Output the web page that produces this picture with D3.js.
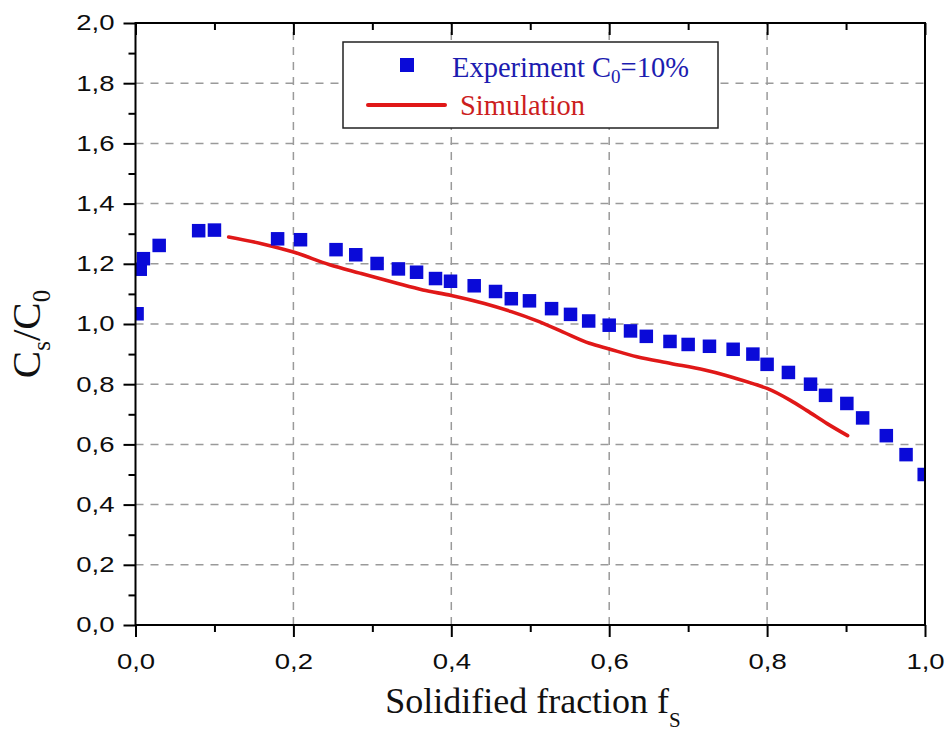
<!DOCTYPE html>
<html>
<head>
<meta charset="utf-8">
<script src="https://cdn.jsdelivr.net/npm/d3@7"></script>
<style>
  html, body { margin: 0; padding: 0; background: #fff; }
  svg { display: block; }
</style>
</head>
<body>
<svg id="chart" width="948" height="735"></svg>
<script>
// ---- data ----
const expX = [0.002, 0.006, 0.010, 0.030, 0.080, 0.100, 0.180, 0.209, 0.254, 0.279, 0.306, 0.333, 0.356, 0.380, 0.399, 0.429, 0.456, 0.476, 0.499, 0.527, 0.551, 0.574, 0.600, 0.627, 0.647, 0.677, 0.700, 0.727, 0.757, 0.782, 0.800, 0.827, 0.855, 0.874, 0.901, 0.921, 0.951, 0.976, 0.999];
const expY = [1.034, 1.182, 1.217, 1.261, 1.310, 1.312, 1.283, 1.280, 1.247, 1.230, 1.201, 1.183, 1.172, 1.151, 1.142, 1.127, 1.108, 1.084, 1.077, 1.051, 1.032, 1.010, 0.996, 0.977, 0.959, 0.942, 0.932, 0.926, 0.916, 0.900, 0.866, 0.839, 0.800, 0.763, 0.736, 0.688, 0.629, 0.566, 0.500];
const simX = [0.118, 0.161, 0.200, 0.246, 0.284, 0.330, 0.364, 0.400, 0.442, 0.476, 0.507, 0.541, 0.575, 0.600, 0.635, 0.678, 0.721, 0.747, 0.782, 0.800, 0.829, 0.850, 0.876, 0.902];
const simY = [1.289, 1.266, 1.239, 1.197, 1.169, 1.136, 1.113, 1.095, 1.068, 1.041, 1.012, 0.974, 0.936, 0.917, 0.891, 0.869, 0.847, 0.830, 0.802, 0.786, 0.747, 0.713, 0.669, 0.629];
const xMajor = [0, 0.2, 0.4, 0.6, 0.8, 1.0];
const xMinor = [0.1, 0.3, 0.5, 0.7, 0.9];
const yMajor = [0, 0.2, 0.4, 0.6, 0.8, 1.0, 1.2, 1.4, 1.6, 1.8, 2.0];
const yMinor = [0.1, 0.3, 0.5, 0.7, 0.9, 1.1, 1.3, 1.5, 1.7, 1.9];
const fmt = d => d3.format(".1f")(d).replace(".", ",");

// ---- layout ----
const L = 135.5, R = 925, T = 23, B = 625;
const svg = d3.select("#chart");
const x = d3.scaleLinear().domain([0, 1]).range([L, R]);
const y = d3.scaleLinear().domain([0, 2]).range([B, T]);

const sans = "'Liberation Sans', Arial, sans-serif";
const serif = "'Liberation Serif', 'Times New Roman', serif";

// gridlines
const grid = svg.append("g").attr("stroke", "#9a9a9a").attr("stroke-width", 1.5).attr("stroke-dasharray", "8,7");
grid.selectAll("line.v").data(xMajor.filter(d => d > 0 && d < 1)).join("line")
  .attr("x1", d => x(d)).attr("x2", d => x(d)).attr("y1", B).attr("y2", T);
grid.selectAll("line.h").data(yMajor.filter(d => d > 0 && d < 2)).join("line")
  .attr("x1", L).attr("x2", R).attr("y1", d => y(d)).attr("y2", d => y(d));

// clip
svg.append("defs").append("clipPath").attr("id", "clip")
  .append("rect").attr("x", L).attr("y", T).attr("width", R - L).attr("height", B - T);

const plot = svg.append("g").attr("clip-path", "url(#clip)");

// simulation line
const line = d3.line().x((d, i) => x(simX[i])).y((d, i) => y(simY[i])).curve(d3.curveMonotoneX);
plot.append("path").datum(simX).attr("d", line)
  .attr("fill", "none").attr("stroke", "#e01818").attr("stroke-width", 3.6)
  .attr("stroke-linecap", "round").attr("stroke-linejoin", "round");

// experiment squares
const S = 13.5;
plot.selectAll("rect.pt").data(expX).join("rect")
  .attr("x", (d, i) => x(d) - S / 2).attr("y", (d, i) => y(expY[i]) - S / 2)
  .attr("width", S).attr("height", S).attr("fill", "#0a0ad8");

// axes
function styleAxis(g) {
  g.select(".domain").remove();
  g.selectAll(".tick line").attr("stroke", "#000").attr("stroke-width", 2);
}
const SX = 1.28;
// bottom major
const gb = svg.append("g").attr("transform", `translate(0,${B})`)
  .call(d3.axisBottom(x).tickValues(xMajor).tickFormat(fmt).tickSize(12).tickPadding(17));
styleAxis(gb);
gb.selectAll("text").attr("font-family", sans).attr("font-size", 21.5).attr("fill", "#0d0d0d")
  .attr("dy", "0.68em").attr("transform", `scale(${SX},1)`);
// bottom minor
styleAxis(svg.append("g").attr("transform", `translate(0,${B})`)
  .call(d3.axisBottom(x).tickValues(xMinor).tickFormat("").tickSize(7)));
// top (inward)
styleAxis(svg.append("g").attr("transform", `translate(0,${T})`)
  .call(d3.axisBottom(x).tickValues(xMajor).tickFormat("").tickSize(12)));
styleAxis(svg.append("g").attr("transform", `translate(0,${T})`)
  .call(d3.axisBottom(x).tickValues(xMinor).tickFormat("").tickSize(7)));
// left major
const gl = svg.append("g").attr("transform", `translate(${L},0)`)
  .call(d3.axisLeft(y).tickValues(yMajor).tickFormat(fmt).tickSize(12).tickPadding(10));
styleAxis(gl);
gl.selectAll("text").attr("font-family", sans).attr("font-size", 21.5).attr("fill", "#0d0d0d")
  .attr("x", -21 / SX).attr("transform", `scale(${SX},1)`);
styleAxis(svg.append("g").attr("transform", `translate(${L},0)`)
  .call(d3.axisLeft(y).tickValues(yMinor).tickFormat("").tickSize(7)));

// frame
svg.append("rect").attr("x", L).attr("y", T).attr("width", R - L).attr("height", B - T)
  .attr("fill", "none").attr("stroke", "#000").attr("stroke-width", 2);

// axis titles
const xt = svg.append("text").attr("x", 533).attr("y", 713).attr("text-anchor", "middle")
  .attr("font-family", serif).attr("font-size", 36).attr("fill", "#111");
xt.append("tspan").text("Solidified fraction f");
xt.append("tspan").attr("font-size", 21).attr("dy", 14).text("S");

const yt = svg.append("text").attr("transform", "translate(40,334) rotate(-90)")
  .attr("text-anchor", "middle").attr("font-family", serif).attr("font-size", 41).attr("fill", "#111");
yt.append("tspan").text("C");
yt.append("tspan").attr("font-size", 25).attr("dy", 10).text("s");
yt.append("tspan").attr("dy", -10).text("/C");
yt.append("tspan").attr("font-size", 25).attr("dy", 10).text("0");

// legend
const lg = svg.append("g");
lg.append("rect").attr("x", 343).attr("y", 42).attr("width", 375).attr("height", 86)
  .attr("fill", "#fff").attr("stroke", "#222").attr("stroke-width", 1.5);
lg.append("rect").attr("x", 407 - 7).attr("y", 65 - 7).attr("width", 14).attr("height", 14).attr("fill", "#0a0ad8");
const lt1 = lg.append("text").attr("x", 452).attr("y", 77).attr("font-family", serif)
  .attr("font-size", 28.5).attr("fill", "#1c1cb0");
lt1.append("tspan").text("Experiment C");
lt1.append("tspan").attr("font-size", 19).attr("dy", 6).text("0");
lt1.append("tspan").attr("dy", -6).text("=10%");
lg.append("line").attr("x1", 368).attr("x2", 445).attr("y1", 105).attr("y2", 105)
  .attr("stroke", "#e01818").attr("stroke-width", 4).attr("stroke-linecap", "round");
lg.append("text").attr("x", 460).attr("y", 115).attr("font-family", serif)
  .attr("font-size", 28.5).attr("fill", "#cc1e1e").text("Simulation");
</script>
</body>
</html>
